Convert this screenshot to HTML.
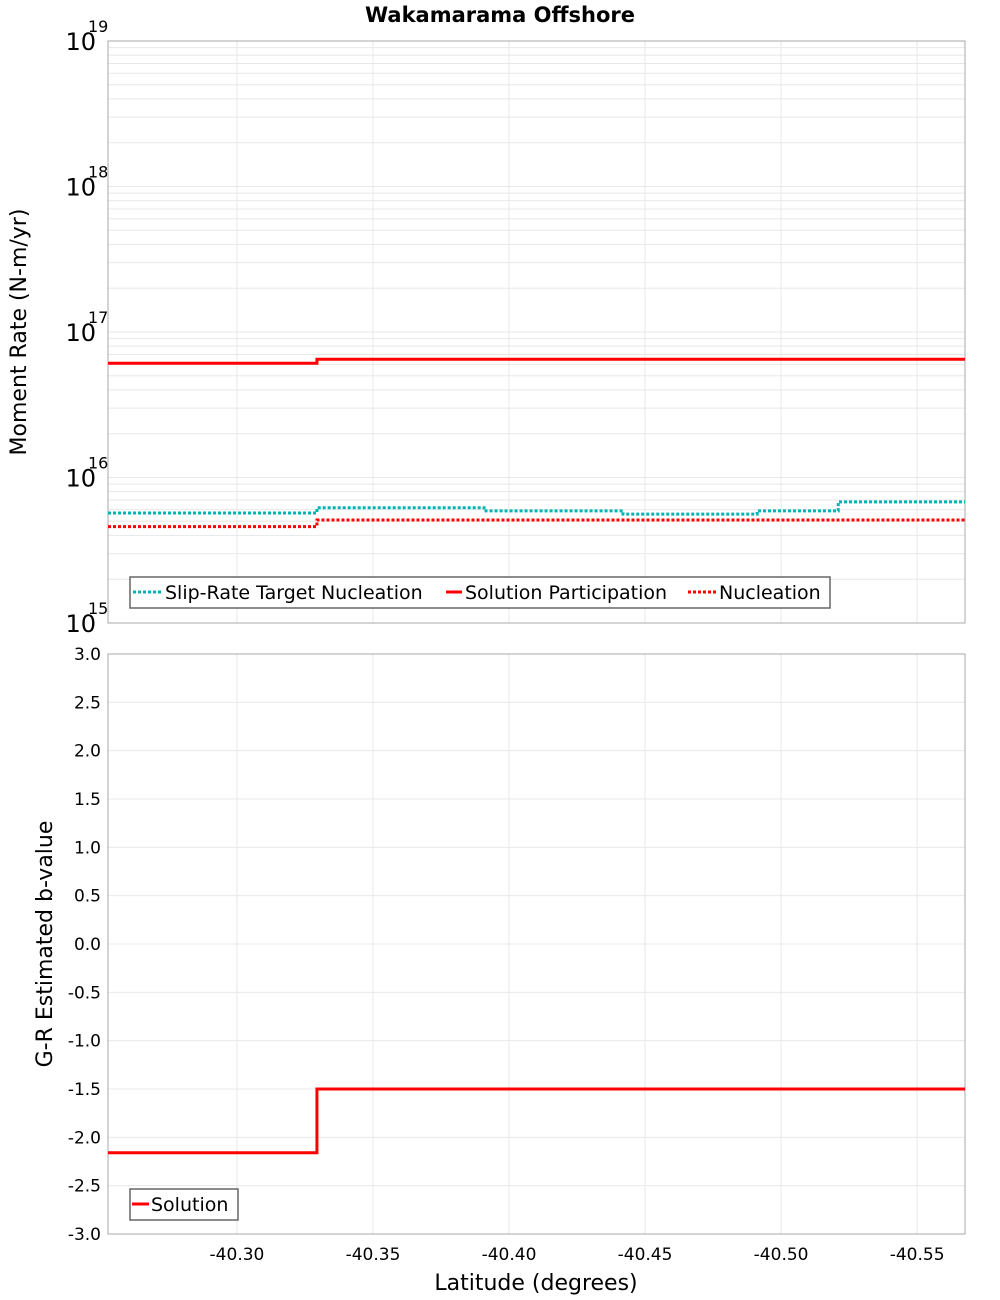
<!DOCTYPE html>
<html><head><meta charset="utf-8"><style>
body{margin:0;background:#fff;}
svg{display:block;font-family:"DejaVu Sans","Liberation Sans",sans-serif;}
</style></head><body>
<svg id="c" width="1000" height="1300" xmlns="http://www.w3.org/2000/svg">
<text x="500" y="22" text-anchor="middle" font-size="21" font-weight="bold">Wakamarama Offshore</text>
<g id="topPanel"></g>
<g id="botPanel"></g>
</svg>
<script>
// segment boundaries (latitude)
const bounds = [-40.2526, -40.3294, -40.3908, -40.4419, -40.4912, -40.5210, -40.5676];
const slipTarget = [5.7e15, 6.2e15, 5.9e15, 5.6e15, 5.9e15, 6.8e15];
const solPart = [6.1e16, 6.5e16, 6.5e16, 6.5e16, 6.5e16, 6.5e16];
const nucleation = [4.6e15, 5.1e15, 5.1e15, 5.1e15, 5.1e15, 5.1e15];
const bValue = [-2.16, -1.5, -1.5, -1.5, -1.5, -1.5];
const xTicks = [-40.30, -40.35, -40.40, -40.45, -40.50, -40.55];
const yExp = [15, 16, 17, 18, 19];
const bTicks = [3.0,2.5,2.0,1.5,1.0,0.5,0.0,-0.5,-1.0,-1.5,-2.0,-2.5,-3.0];

const NS='http://www.w3.org/2000/svg';
const L=108,R=965,T1=41,B1=623,T2=654,B2=1234;
const xMin=-40.2526,xMax=-40.5676;
const xs=v=>L+(v-xMin)/(xMax-xMin)*(R-L);
const ys1=v=>T1+(19-Math.log10(v))/4*(B1-T1);
const ys2=v=>T2+(3-v)/6*(B2-T2);
function mk(p,tag,a,txt){const e=document.createElementNS(NS,tag);for(const k in a)e.setAttribute(k,a[k]);if(txt!==undefined)e.textContent=txt;p.appendChild(e);return e;}
const topG=document.getElementById('topPanel'),botG=document.getElementById('botPanel');

// grids
[topG,botG].forEach((g,i)=>{
  const T=i?T2:T1,B=i?B2:B1;
  xTicks.forEach(t=>{const l=mk(g,'line',{x1:xs(t),x2:xs(t),y1:T,y2:B,stroke:'#e8e8e8'});

});
});
yExp.forEach(e=>{for(let m=1;m<10;m++){const v=m*Math.pow(10,e);if(e===19&&m>1)break;const y=ys1(v);
 const l=mk(topG,'line',{x1:L,x2:R,y1:y,y2:y,stroke:'#e8e8e8'});

}});
bTicks.forEach(t=>{const y=ys2(t);const l=mk(botG,'line',{x1:L,x2:R,y1:y,y2:y,stroke:'#e8e8e8'});

});

// frames
mk(topG,'rect',{x:L,y:T1,width:R-L,height:B1-T1,fill:'none',stroke:'#aaa'});
mk(botG,'rect',{x:L,y:T2,width:R-L,height:B2-T2,fill:'none',stroke:'#aaa'});

// tick labels
yExp.forEach(e=>{const y=ys1(Math.pow(10,e));
 const t=mk(topG,'text',{x:96,y:y+9,'text-anchor':'end','font-size':24},'10');


 const s=mk(topG,'text',{x:88,y:y-9,'font-size':16},String(e));

});
bTicks.forEach(v=>{const t=mk(botG,'text',{x:101,y:ys2(v)+6,'text-anchor':'end','font-size':17},v.toFixed(1));

});
xTicks.forEach(v=>{const t=mk(botG,'text',{x:xs(v),y:1260,'text-anchor':'middle','font-size':17},v.toFixed(2));

});

// axis titles
let a=mk(topG,'text',{x:0,y:0,transform:'translate(26,332) rotate(-90)','text-anchor':'middle','font-size':22},'Moment Rate (N-m/yr)');


a=mk(botG,'text',{x:0,y:0,transform:'translate(52,944) rotate(-90)','text-anchor':'middle','font-size':22},'G-R Estimated b-value');


a=mk(botG,'text',{x:536,y:1290,'text-anchor':'middle','font-size':22},'Latitude (degrees)');



// series
function steps(g,vals,ys,color,dash,name){
  let d='';
  vals.forEach((v,i)=>{const y=ys(v);d+=(i?'L':'M')+xs(bounds[i])+' '+y+' L'+xs(bounds[i+1])+' '+y+' ';});
  const p=mk(g,'path',{d:d,fill:'none',stroke:color,'stroke-width':3});
  if(dash)p.setAttribute('stroke-dasharray','3 2');
  
  
}
steps(topG,solPart,ys1,'#ff0000',null,'solution-participation-line');
steps(topG,slipTarget,ys1,'#00b4b4',true,'slip-rate-target-line');
steps(topG,nucleation,ys1,'#ff0000',true,'nucleation-line');
steps(botG,bValue,ys2,'#ff0000',null,'b-value-solution-line');

// legends
let lg=mk(topG,'g',{});


mk(lg,'rect',{x:130,y:577,width:700,height:31,fill:'#fff',stroke:'#666','stroke-width':1.5});
mk(lg,'line',{x1:133,x2:161,y1:592,y2:592,stroke:'#00b4b4','stroke-width':3,'stroke-dasharray':'3 2'});
mk(lg,'text',{x:165,y:599,'font-size':19},'Slip-Rate Target Nucleation');
mk(lg,'line',{x1:446,x2:462,y1:592,y2:592,stroke:'#ff0000','stroke-width':3});
mk(lg,'text',{x:465,y:599,'font-size':19},'Solution Participation');
mk(lg,'line',{x1:688,x2:716,y1:592,y2:592,stroke:'#ff0000','stroke-width':3,'stroke-dasharray':'3 2'});
mk(lg,'text',{x:719,y:599,'font-size':19},'Nucleation');
lg=mk(botG,'g',{});


mk(lg,'rect',{x:130,y:1189,width:108,height:31,fill:'#fff',stroke:'#666','stroke-width':1.5});
mk(lg,'line',{x1:132,x2:149,y1:1204,y2:1204,stroke:'#ff0000','stroke-width':3});
mk(lg,'text',{x:151,y:1211,'font-size':19},'Solution');
</script>
</body></html>
